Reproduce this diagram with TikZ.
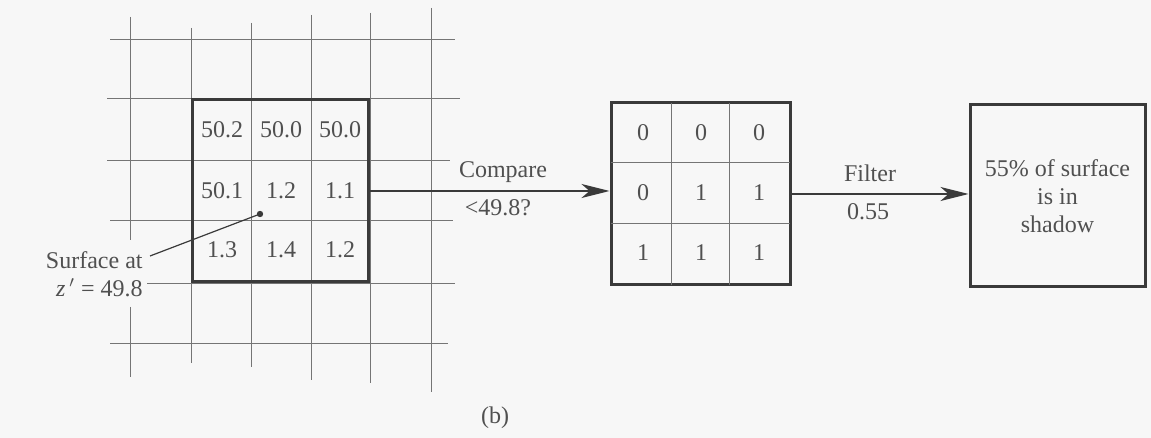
\documentclass[tikz,border=0pt]{standalone}
\usepackage{fontspec}
\setmainfont{Liberation Serif}
\newfontfamily\tms{Liberation Serif}
\usetikzlibrary{arrows.meta}
\definecolor{bg}{HTML}{F7F7F7}
\definecolor{ink}{HTML}{3A3A3A}
\definecolor{txt}{HTML}{505050}
\begin{document}
\begin{tikzpicture}[x=0.5pt,y=-0.5pt,
  every node/.style={text=txt,font=\tms\fontsize{12pt}{13.9pt}\selectfont,inner sep=0pt},
  gridline/.style={draw=ink!70,line width=0.45pt},
  thickbox/.style={draw=ink,line width=1.5pt,minimum height=91pt},
  flow/.style={draw=ink,line width=1pt,-{Stealth[length=14pt,width=7pt,inset=4pt]}},
  cell/.style={anchor=center}]
\useasboundingbox[fill=bg] (0,0) rectangle (1151,438);
% grid
\foreach \x/\a/\b in {191/28/363,251/23/367,311/15/380,370/13/383,431/8/392}
  \draw[gridline] (\x,\a) -- (\x,\b);
\draw[gridline] (130,17) -- (130,240);
\draw[gridline] (130,307) -- (130,377);
\foreach \y/\a/\b in {39/110/455,98/107/460,160/107/450,220/110/453,283/147/455,343/110/448}
  \draw[gridline] (\a,\y) -- (\b,\y);
% box 1
\node[thickbox,minimum width=88pt] (box1) at (280,191) {};
\foreach \t [count=\i] in {50.2,50.0,50.0}
  \node[cell] (a1\i) at ({222+(\i-1)*59},130) {\t};
\foreach \t [count=\i] in {50.1,1.2,1.1}
  \node[cell] (a2\i) at ({222+(\i-1)*59},191) {\t};
\foreach \t [count=\i] in {1.3,1.4,1.2}
  \node[cell] (a3\i) at ({222+(\i-1)*59},250) {\t};
% surface label
\fill[ink] (260,214) circle (1.6pt);
\coordinate (dot) at (260,214);
\node[anchor=east] (surf) at (143,260) {Surface at};
\node[anchor=east] (zval) at (143,288) {\textit{z}\,$'$ = 49.8};
\draw[ink,line width=0.6pt] (dot) -- (150,256);
% box 2
\node[thickbox,minimum width=89.5pt] (box2) at (700.5,194) {};
\draw[gridline] (671,103) -- (671,285);
\draw[gridline] (729,103) -- (729,285);
\draw[gridline] (611,162) -- (790,162);
\draw[gridline] (611,223) -- (790,223);
\foreach \t [count=\i] in {0,0,0}
  \node[cell] (b1\i) at ({643+(\i-1)*58},133) {\t};
\foreach \t [count=\i] in {0,1,1}
  \node[cell] (b2\i) at ({643+(\i-1)*58},193) {\t};
\foreach \t [count=\i] in {1,1,1}
  \node[cell] (b3\i) at ({643+(\i-1)*58},253) {\t};
% box 3
\node[thickbox,minimum width=87.5pt,align=center] (box3) at (1057.5,196) {55\% of surface\\is in\\shadow};
% arrows
\draw[flow] (box1.east) -- (box2.west |- box1.east);
\draw[flow] (box2.east) -- (box3.west |- box2.east);
\node (cmp) at (503,172) {Compare};
\node (lt) at (498,208) {<49.8?};
\node (filt) at (870,173) {Filter};
\node (val) at (868,212) {0.55};
\node (cap) at (495,418) {(b)};
\end{tikzpicture}
\end{document}
